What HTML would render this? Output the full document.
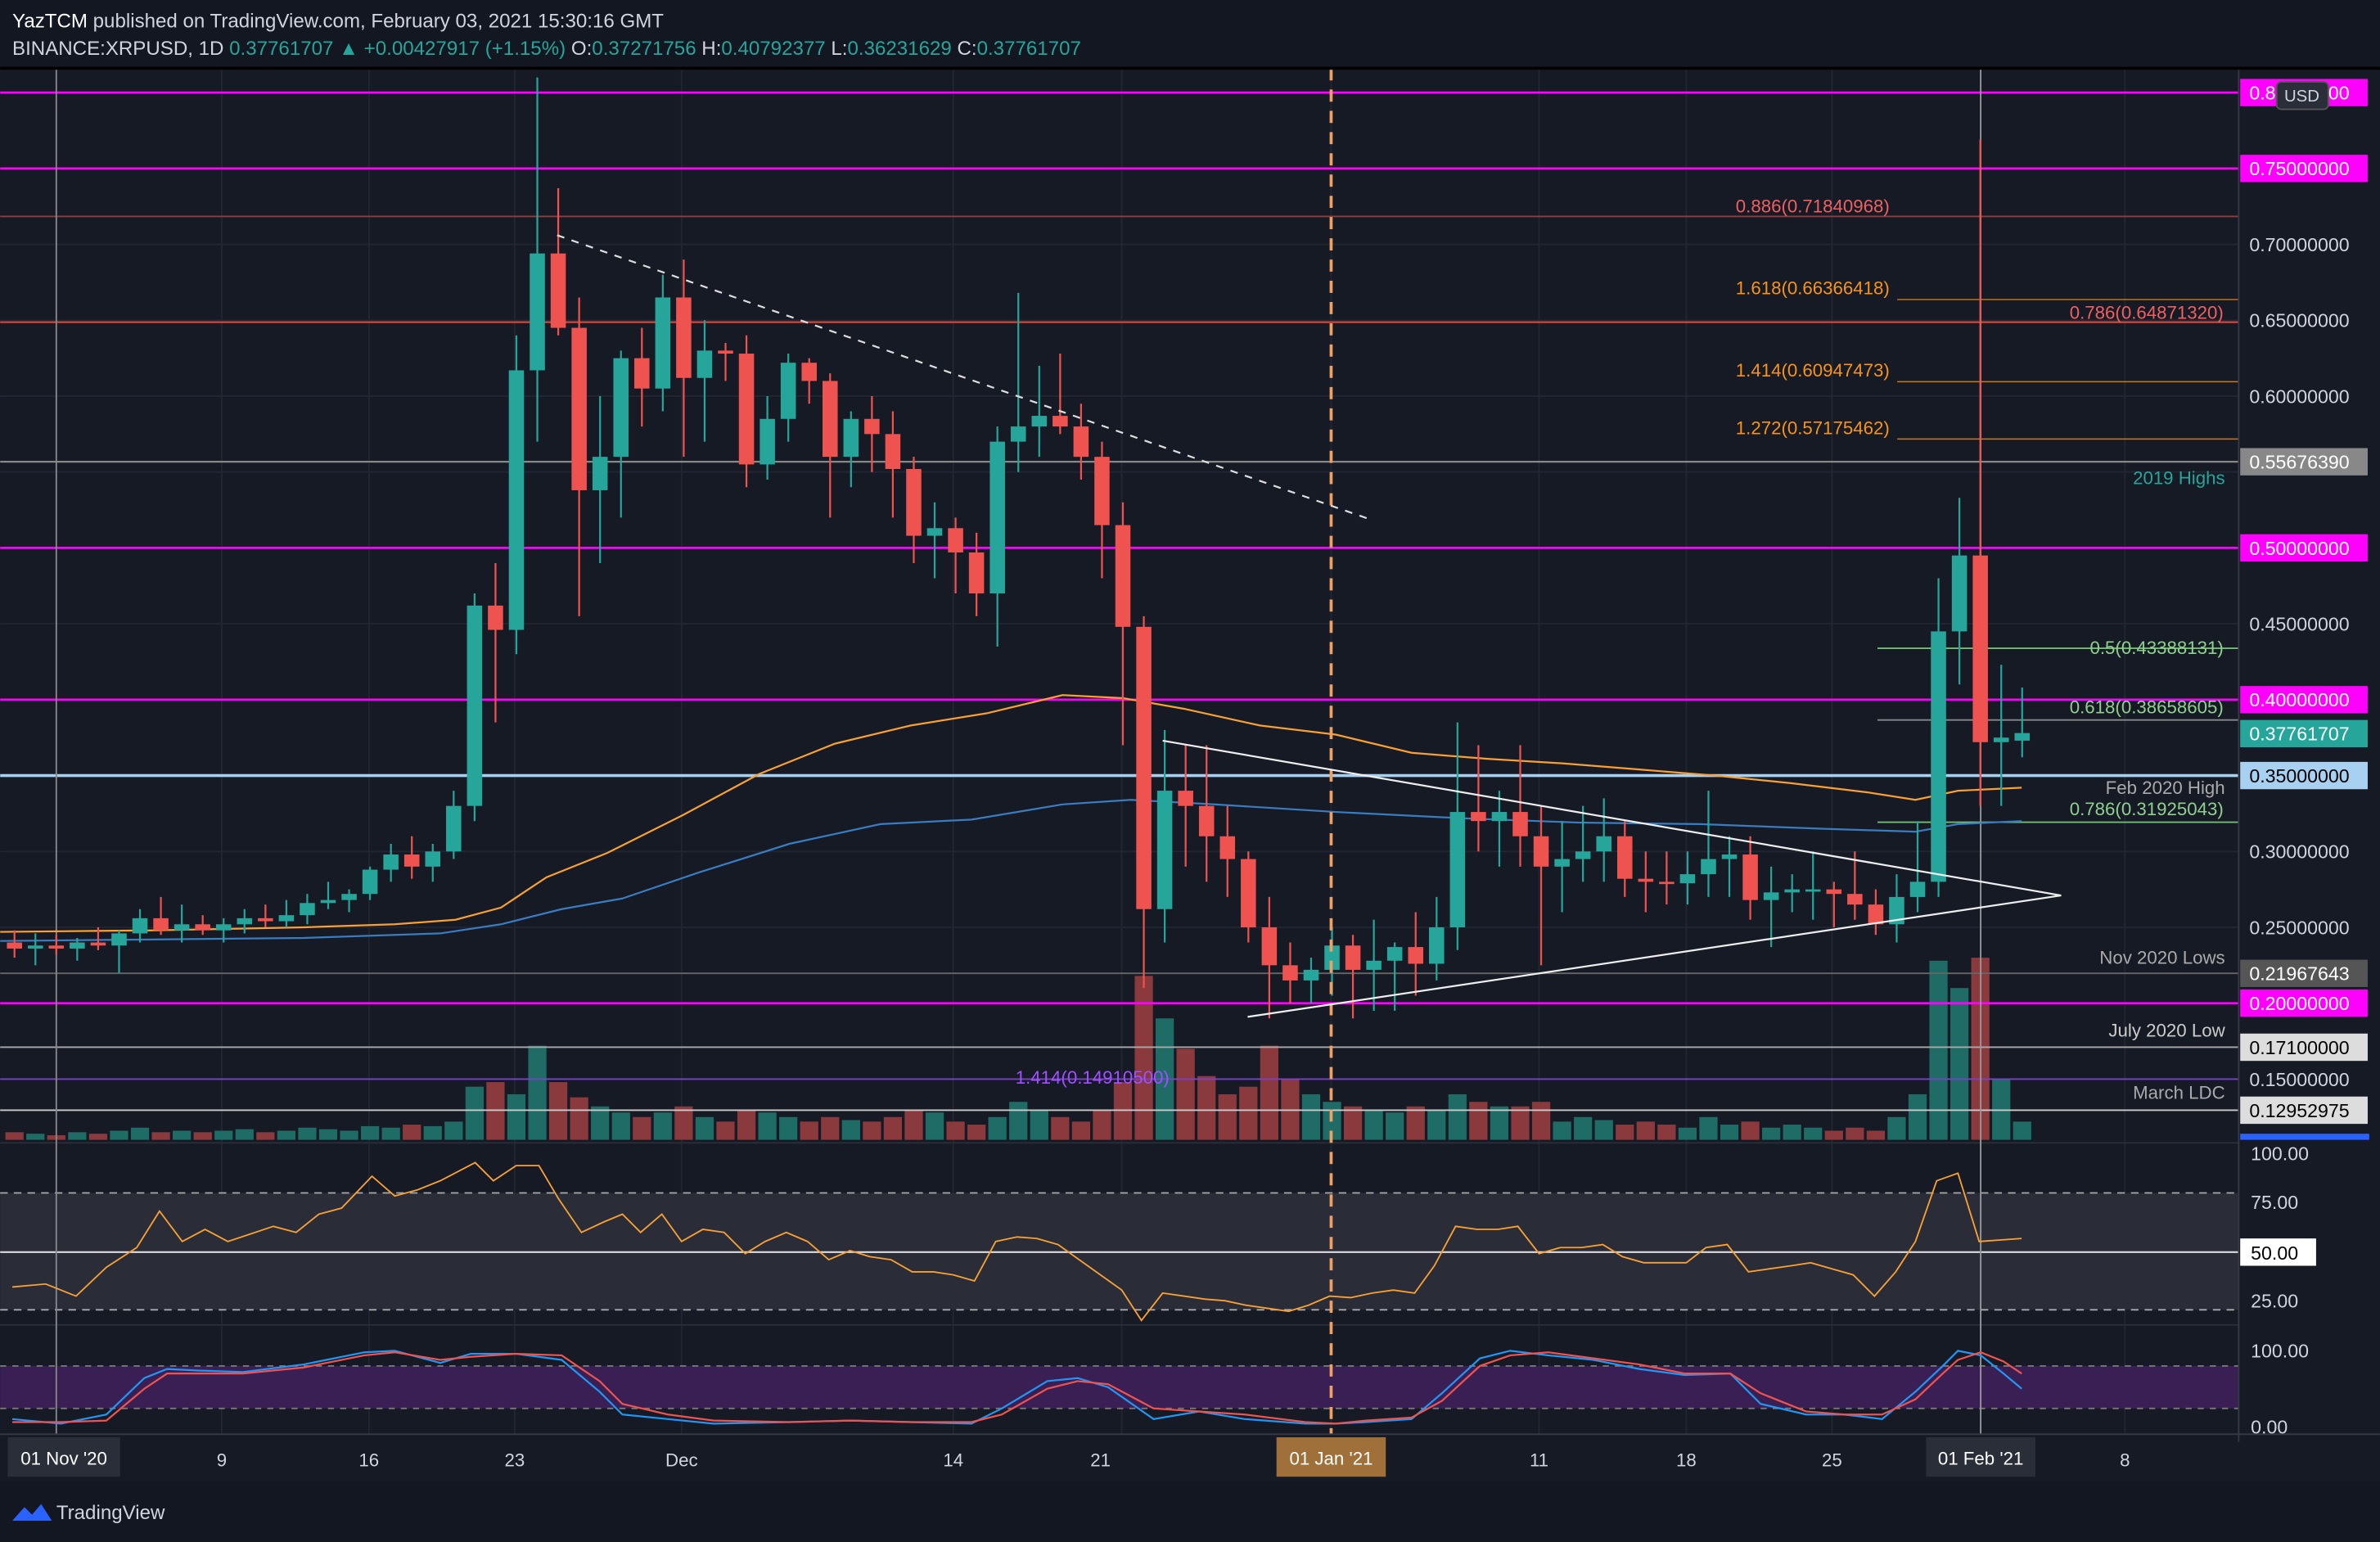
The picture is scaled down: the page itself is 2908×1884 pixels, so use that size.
<!DOCTYPE html>
<html><head><meta charset="utf-8"><style>
html,body{margin:0;padding:0;background:#161a25;}
svg{display:block}
text{font-family:"Liberation Sans",sans-serif}
</style></head><body>
<svg id="s" width="2908" height="1884" viewBox="0 0 1568 1016" xmlns="http://www.w3.org/2000/svg">
<rect width="1568" height="1016" fill="#161a25"/>
<g id="grid" stroke="#222633" stroke-width="1"></g>
<rect x="0" y="786" width="1475" height="77" fill="#2a2d38"/>
<line x1="0" y1="786" x2="1475" y2="786" stroke="#aaa" stroke-dasharray="5,4"/>
<line x1="0" y1="863" x2="1475" y2="863" stroke="#aaa" stroke-dasharray="5,4"/>
<line x1="0" y1="825" x2="1475" y2="825" stroke="#ddd" stroke-width="1.2"/>
<rect x="0" y="900" width="1475" height="28" fill="#3a1f55"/>
<line x1="0" y1="900" x2="1475" y2="900" stroke="#777" stroke-dasharray="4,4"/>
<line x1="0" y1="928" x2="1475" y2="928" stroke="#777" stroke-dasharray="4,4"/>
<line x1="0" y1="753" x2="1475" y2="753" stroke="#2a2e39"/>
<line x1="0" y1="873" x2="1475" y2="873" stroke="#2a2e39"/>
<g id="vol"></g>
<g id="lines"></g>
<g id="ma"></g>
<g id="candles"></g>
<g id="over"></g>
<rect x="1475" y="45" width="93" height="905" fill="#161a25"/>
<line x1="1475" y1="45" x2="1475" y2="950" stroke="#363a45"/>
<g id="axis" font-size="12.5" fill="#d1d4dc"></g>
<line x1="0" y1="945" x2="1568" y2="945" stroke="#363a45"/>
<g id="taxis" font-size="12" fill="#d1d4dc"></g>
<rect x="0" y="0" width="1568" height="44" fill="#131722"/>
<line x1="0" y1="45" x2="1568" y2="45" stroke="#000" stroke-width="2"/>
<text x="8" y="18" font-size="13" fill="#fff">YazTCM <tspan fill="#d1d4dc">published on TradingView.com, February 03, 2021 15:30:16 GMT</tspan></text>
<text x="8" y="36" font-size="13" fill="#d1d4dc">BINANCE:XRPUSD, 1D <tspan fill="#26a69a">0.37761707 ▲ +0.00427917 (+1.15%)</tspan> O:<tspan fill="#26a69a">0.37271756</tspan> H:<tspan fill="#26a69a">0.40792377</tspan> L:<tspan fill="#26a69a">0.36231629</tspan> C:<tspan fill="#26a69a">0.37761707</tspan></text>
<rect x="0" y="976" width="1568" height="40" fill="#131722"/>
<g transform="translate(8,988)"><path d="M0 14 L8 5 L13 10 L19 3 L26 14 Z" fill="#2962ff"/></g>
<text x="37" y="1001" font-size="13" fill="#d1d4dc">TradingView</text>
</svg>
<script>
const NS="http://www.w3.org/2000/svg";
function el(p,t,a,txt){const e=document.createElementNS(NS,t);for(const k in a)e.setAttribute(k,a[k]);if(txt!==undefined)e.textContent=txt;document.getElementById(p).appendChild(e);return e;}
const Y=p=>861-1000*p;
const X=d=>37+d*13.78;
for(let p=0.25;p<=0.8;p+=0.05)el("grid","line",{x1:0,x2:1475,y1:Y(p),y2:Y(p)});
[37,146,243,339,449,628,739,877,1014,1111,1207,1305,1400].forEach(x=>el("grid","line",{x1:x,x2:x,y1:45,y2:945}));
const C=[
[.240,.248,.23,.236],[.236,.246,.225,.238],[.238,.245,.232,.236],[.236,.243,.228,.240],[.240,.25,.235,.238],
[.238,.248,.22,.246],[.246,.262,.24,.256],[.256,.27,.245,.248],[.248,.265,.24,.252],[.252,.258,.245,.248],[.248,.256,.24,.252],[.252,.262,.246,.256],
[.256,.265,.25,.254],[.254,.268,.25,.258],[.258,.272,.252,.266],[.266,.28,.262,.268],[.268,.275,.26,.272],[.272,.29,.268,.288],
[.288,.305,.28,.298],[.298,.31,.282,.29],[.29,.305,.28,.3],[.3,.34,.295,.33],[.33,.47,.32,.462],[.462,.49,.385,.446],[.446,.64,.43,.617],
[.617,.81,.57,.694],[.694,.737,.64,.645],[.645,.665,.455,.538],[.538,.6,.49,.56],[.56,.63,.52,.625],[.625,.645,.58,.605],[.605,.68,.59,.665],
[.665,.69,.56,.612],[.612,.65,.57,.63],[.63,.635,.61,.628],[.628,.64,.54,.555],[.555,.6,.545,.585],[.585,.628,.57,.622],[.622,.625,.595,.61],
[.61,.615,.52,.56],[.56,.59,.54,.585],[.585,.6,.55,.575],[.575,.59,.52,.552],[.552,.56,.49,.508],[.508,.53,.48,.513],[.513,.52,.47,.497],
[.497,.51,.455,.47],[.47,.58,.435,.57],[.57,.668,.55,.58],[.58,.62,.56,.587],[.587,.628,.575,.58],[.58,.595,.545,.56],[.56,.57,.48,.515],
[.515,.53,.37,.448],[.448,.455,.21,.262],[.262,.38,.24,.34],[.34,.37,.29,.33],[.33,.37,.28,.31],[.31,.33,.27,.295],[.295,.3,.24,.25],[.25,.27,.19,.225],
[.225,.24,.2,.215],[.215,.23,.2,.222],[.222,.25,.205,.238],[.238,.245,.19,.222],[.222,.255,.195,.228],[.228,.24,.195,.237],[.237,.26,.205,.226],
[.226,.27,.215,.25],[.25,.385,.235,.326],[.326,.37,.3,.32],[.32,.34,.29,.326],[.326,.37,.29,.31],[.31,.33,.225,.29],[.29,.32,.26,.295],
[.295,.33,.28,.3],[.3,.335,.28,.31],[.31,.32,.27,.282],[.282,.3,.26,.28],[.28,.3,.265,.279],[.279,.3,.265,.285],[.285,.34,.27,.295],
[.295,.31,.27,.298],[.298,.31,.255,.268],[.268,.29,.237,.273],[.273,.285,.26,.275],[.275,.3,.255,.275],[.275,.28,.25,.272],[.272,.3,.255,.265],
[.265,.275,.245,.252],[.252,.285,.24,.27],[.27,.32,.26,.28],[.28,.48,.27,.445],[.445,.533,.41,.495],[.495,.769,.33,.372],[.372,.423,.33,.375],[.373,.408,.362,.378]];
const vols=[5,4,3,5,4,6,8,5,6,5,6,7,5,6,8,7,6,9,8,10,9,12,35,38,30,62,38,28,22,18,15,18,22,15,12,20,18,15,12,15,13,12,15,20,18,12,10,15,25,20,15,12,20,
38,108,80,60,42,30,35,62,40,30,25,22,20,18,22,20,30,25,22,22,25,12,15,13,10,12,10,8,15,10,12,8,10,8,6,8,6,15,30,118,100,120,40,12];
C.forEach((c,i)=>{const d=i-2,x=X(d);const up=c[3]>=c[0];const col=up?"#26a69a":"#ef5350";
 el("candles","line",{x1:x,x2:x,y1:Y(c[1]),y2:Y(c[2]),stroke:col,"stroke-width":1.2});
 const t=Y(Math.max(c[0],c[3])),b=Y(Math.min(c[0],c[3]));
 el("candles","rect",{x:x-5,y:t,width:10,height:Math.max(1.5,b-t),fill:col});
 const v=vols[i]||5; el("vol","rect",{x:x-6,y:751-v,width:12,height:v,fill:up?"#1f6b66":"#8a3a3d"});
});
const H=[[.8,"#ff00ff",1.5],[.75,"#ff00ff",1.5],[.7184,"#8a4040",1],[.6487,"#e04030",1.2],[.55676,"#888",1.2],[.5,"#ff00ff",1.5],[.4,"#ff00ff",1.5],
[.35,"#a8d0f0",2],[.21967,"#666",1],[.2,"#ff00ff",1.5],[.171,"#aaa",1],[.15,"#7b3fd0",1],[.1295,"#ccc",1]];
H.forEach(h=>el("lines","line",{x1:0,x2:1475,y1:Y(h[0]),y2:Y(h[0]),stroke:h[1],"stroke-width":h[2]}));
[[.66366,"#f7931a"],[.60947,"#f7931a"],[.57175,"#f7931a"]].forEach(h=>el("lines","line",{x1:1250,x2:1475,y1:Y(h[0]),y2:Y(h[0]),stroke:h[1],"stroke-width":0.8,opacity:.8}));
[.43388,.38659,.31925].forEach(p=>el("lines","line",{x1:1237,x2:1475,y1:Y(p),y2:Y(p),stroke:p==.38659?"#888":"#6fbf6f","stroke-width":1}));
el("lines","line",{x1:37,x2:37,y1:45,y2:945,stroke:"#888","stroke-width":1});
el("lines","line",{x1:1305,x2:1305,y1:45,y2:945,stroke:"#999","stroke-width":1});
el("over","line",{x1:877,x2:877,y1:45,y2:945,stroke:"#f0a060","stroke-width":2,"stroke-dasharray":"8,6"});
el("ma","polyline",{points:"0,614 100,613 200,611 260,609 300,606 330,598 360,578 400,562 450,537 500,510 550,490 600,478 650,470 700,458 740,460 780,467 830,478 880,484 930,496 980,500 1030,503 1080,507 1130,511 1180,516 1230,522 1262,527 1290,521 1332,519",fill:"none",stroke:"#f7a035","stroke-width":1.2});
el("ma","polyline",{points:"0,620 100,619 200,618 290,615 330,609 370,599 410,592 460,575 520,556 580,543 640,540 700,530 745,527 800,530 880,535 960,539 1040,542 1120,543 1200,546 1262,548 1290,543 1332,541",fill:"none",stroke:"#3a7cc0","stroke-width":1.2});
el("over","line",{x1:367,y1:155,x2:905,y2:343,stroke:"#ddd","stroke-width":1.2,"stroke-dasharray":"5,5"});
el("over","polyline",{points:"766,488 1358,590 822,670",fill:"none",stroke:"#eee","stroke-width":1.2});
el("over","polyline",{points:"8,848 30,846 50,854 70,835 90,822 105,798 120,818 135,810 150,818 165,813 180,808 195,812 210,800 225,796 245,775 260,788 275,784 290,778 313,766 325,778 340,768 355,768 368,790 383,812 398,805 410,800 422,812 436,800 449,818 463,810 477,812 491,826 504,818 518,812 532,818 546,830 560,824 573,828 587,830 601,838 615,838 628,840 642,844 656,818 670,815 683,816 697,820 711,830 725,840 739,850 752,870 766,852 780,854 794,856 807,857 821,860 835,862 849,864 862,860 876,854 890,855 904,852 918,850 932,852 945,834 959,808 973,810 987,810 1000,808 1014,826 1028,822 1042,822 1056,820 1069,828 1083,832 1097,832 1111,832 1124,822 1138,820 1152,838 1166,836 1180,834 1193,832 1207,836 1221,840 1235,854 1249,838 1262,818 1276,778 1290,773 1304,818 1332,816",fill:"none",stroke:"#f7a035","stroke-width":1});
el("over","polyline",{points:"8,935 40,938 70,932 95,908 110,902 130,903 160,904 200,899 240,891 260,890 290,898 310,892 340,892 370,896 395,917 410,932 440,935 470,938 520,937 560,936 600,937 640,938 660,928 690,910 710,908 730,914 760,935 790,930 820,935 860,938 880,938 900,937 930,935 950,918 975,895 995,890 1020,893 1050,896 1080,902 1110,906 1140,905 1160,925 1190,932 1215,932 1240,935 1262,917 1280,900 1290,890 1305,893 1320,905 1332,915",fill:"none",stroke:"#2196f3","stroke-width":1.2});
el("over","polyline",{points:"8,937 40,937 70,936 95,915 110,905 130,905 160,905 200,901 240,893 260,891 290,896 310,894 340,892 370,893 395,910 410,925 440,932 470,936 520,937 560,936 600,937 640,937 660,932 690,915 710,910 730,912 760,928 790,930 820,932 860,937 880,938 900,936 930,934 950,923 975,900 995,893 1020,891 1050,895 1080,899 1110,905 1140,905 1160,918 1190,930 1215,932 1240,932 1262,922 1280,905 1290,896 1305,891 1320,897 1332,905",fill:"none",stroke:"#ef5350","stroke-width":1.2});
const L=[[1245,140,"0.886(0.71840968)","#ef6060"],[1245,194,"1.618(0.66366418)","#f7931a"],[1465,210,"0.786(0.64871320)","#ef6060"],[1245,248,"1.414(0.60947473)","#f7931a"],[1245,286,"1.272(0.57175462)","#f7931a"],[1466,319,"2019 Highs","#26a69a"],[1465,431,"0.5(0.43388131)","#8fd08f"],[1465,470,"0.618(0.38658605)","#8fd08f"],[1466,523,"Feb 2020 High","#aaa"],[1465,537,"0.786(0.31925043)","#8fd08f"],[1466,635,"Nov 2020 Lows","#aaa"],[1466,683,"July 2020 Low","#ccc"],[1466,724,"March LDC","#aaa"]];
L.forEach(l=>el("over","text",{x:l[0],y:l[1],"font-size":12,fill:l[3],"text-anchor":"end"},l[2]));
el("over","text",{x:669,y:714,"font-size":12,fill:"#a050ff"},"1.414(0.14910500)");
const A=[[.8,"0.80000000","#ff00ff","#fff"],[.75,"0.75000000","#ff00ff","#fff"],[.7,"0.70000000"],[.65,"0.65000000"],[.6,"0.60000000"],[.55676,"0.55676390","#888","#fff"],[.5,"0.50000000","#ff00ff","#fff"],[.45,"0.45000000"],[.4,"0.40000000","#ff00ff","#fff"],[.37762,"0.37761707","#26a69a","#fff"],[.35,"0.35000000","#a8d0f0","#000"],[.3,"0.30000000"],[.25,"0.25000000"],[.21967,"0.21967643","#555","#fff"],[.2,"0.20000000","#ff00ff","#fff"],[.171,"0.17100000","#ddd","#000"],[.15,"0.15000000"],[.1295,"0.12952975","#ddd","#000"]];
A.forEach(a=>{const y=Y(a[0]);if(a[2])el("axis","rect",{x:1476,y:y-9,width:84,height:18,fill:a[2]});el("axis","text",{x:1482,y:y+4.5,fill:a[3]||"#d1d4dc"},a[1]);});
el("axis","rect",{x:1500,y:54,width:34,height:18,rx:3,fill:"#2a2e39",stroke:"#555"});
el("axis","text",{x:1505,y:67,fill:"#d1d4dc","font-size":11},"USD");
el("axis","rect",{x:1476,y:747,width:85,height:4,fill:"#2962ff"});
[[760,"100.00"],[792,"75.00"],[857,"25.00"],[890,"100.00"],[940,"0.00"]].forEach(a=>el("axis","text",{x:1483,y:a[0]+4.5},a[1]));
el("axis","rect",{x:1476,y:816,width:50,height:18,fill:"#fff"});
el("axis","text",{x:1483,y:830,fill:"#000"},"50.00");
[[146,"9"],[243,"16"],[339,"23"],[449,"Dec"],[628,"14"],[725,"21"],[1014,"11"],[1111,"18"],[1207,"25"],[1400,"8"]].forEach(t=>el("taxis","text",{x:t[0],y:966,"text-anchor":"middle"},t[1]));
el("taxis","rect",{x:5,y:947,width:74,height:26,fill:"#2a2e39"});
el("taxis","text",{x:42,y:965,"text-anchor":"middle",fill:"#fff"},"01 Nov '20");
el("taxis","rect",{x:841,y:947,width:72,height:26,fill:"#a0703a"});
el("taxis","text",{x:877,y:965,"text-anchor":"middle",fill:"#fff"},"01 Jan '21");
el("taxis","rect",{x:1269,y:947,width:72,height:26,fill:"#2a2e39"});
el("taxis","text",{x:1305,y:965,"text-anchor":"middle",fill:"#fff"},"01 Feb '21");
</script>
</body></html>
